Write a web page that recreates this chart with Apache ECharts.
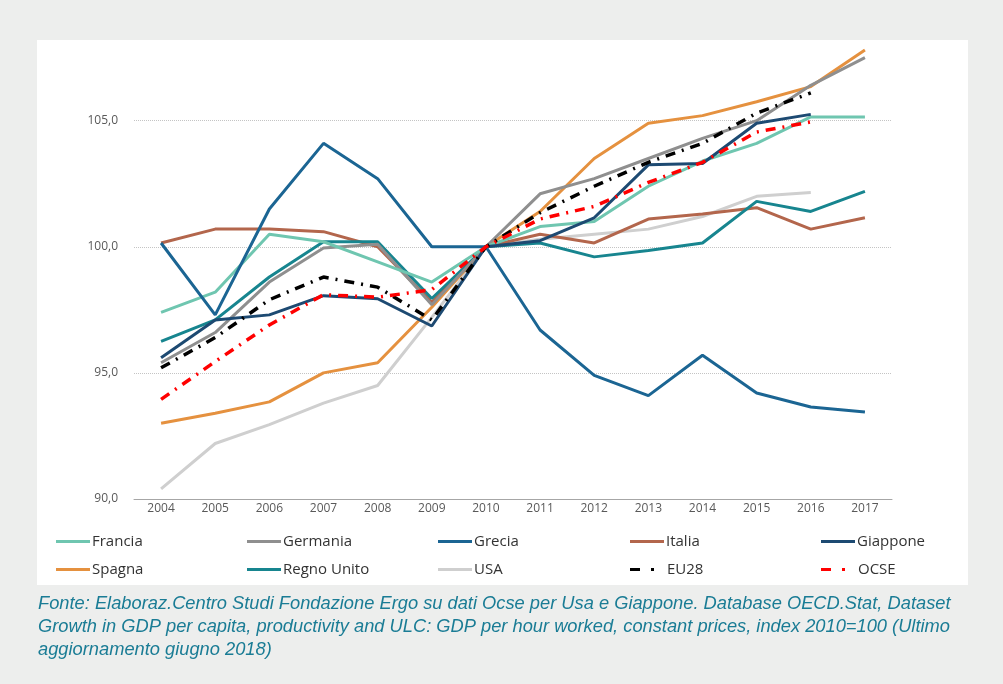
<!DOCTYPE html>
<html>
<head>
<meta charset="utf-8">
<script src="https://cdn.jsdelivr.net/npm/echarts@6/dist/echarts.min.js"></script>
<style>
  html, body { margin: 0; padding: 0; background: #edeeed; }
  #main { width: 1003px; height: 684px; }
</style>
</head>
<body>
<div id="main"></div>
<script>
// anni
var years = ['2004', '2005', '2006', '2007', '2008', '2009', '2010', '2011', '2012', '2013', '2014', '2015', '2016', '2017'];

// indice 2010=100
var francia    = [97.4, 98.2, 100.5, 100.2, 99.4, 98.6, 100, 100.8, 101.0, 102.4, 103.4, 104.1, 105.15, 105.15];
var germania   = [95.4, 96.6, 98.6, 99.95, 100.1, 97.7, 100, 102.1, 102.7, 103.5, 104.3, 105.0, 106.4, 107.5];
var grecia     = [100.15, 97.3, 101.5, 104.1, 102.7, 100.0, 100, 96.7, 94.9, 94.1, 95.7, 94.2, 93.65, 93.45];
var italia     = [100.15, 100.7, 100.7, 100.6, 100.0, 97.8, 100, 100.5, 100.15, 101.1, 101.3, 101.55, 100.7, 101.15];
var giappone   = [95.6, 97.1, 97.3, 98.06, 97.94, 96.86, 100, 100.24, 101.15, 103.25, 103.3, 104.9, 105.25, null];
var spagna     = [93.0, 93.4, 93.85, 95.0, 95.4, 97.6, 100, 101.4, 103.5, 104.9, 105.2, 105.75, 106.35, 107.8];
var regnoUnito = [96.25, 97.1, 98.8, 100.2, 100.2, 97.95, 100, 100.15, 99.6, 99.85, 100.15, 101.8, 101.4, 102.2];
var usa        = [90.4, 92.2, 92.95, 93.8, 94.5, 97.2, 100, 100.3, 100.5, 100.7, 101.2, 102.0, 102.15, null];
var eu28       = [95.2, 96.4, 97.9, 98.8, 98.4, 97.1, 100, 101.35, 102.4, 103.35, 104.1, 105.3, 106.1, null];
var ocse       = [93.95, 95.45, 96.9, 98.1, 98.0, 98.3, 100, 101.1, 101.6, 102.55, 103.35, 104.55, 104.95, null];

var legendRow1 = ['Francia', 'Germania', 'Grecia', 'Italia', 'Giappone'];
var legendRow2 = ['Spagna', 'Regno Unito', 'USA', 'EU28', 'OCSE'];

var fonte = [
  'Fonte: Elaboraz.Centro Studi Fondazione Ergo su dati Ocse per Usa e Giappone. Database OECD.Stat, Dataset',
  'Growth in GDP per capita, productivity and ULC: GDP per hour worked, constant prices, index 2010=100 (Ultimo',
  'aggiornamento giugno 2018)'
];

var tratteggio = [10, 7, 2, 7];

function serie(name, data, color, dash) {
  return {
    name: name,
    type: 'line',
    data: data,
    symbol: 'none',
    connectNulls: false,
    lineStyle: { color: color, width: dash ? 3.5 : 3, type: dash || 'solid' },
    itemStyle: { color: color }
  };
}

var chart = echarts.init(document.getElementById('main'), null, { renderer: 'canvas' });

// icone legenda: linea piena oppure trattino + punto
var iconaLinea = 'path://M0,0h34v3h-34z';
var iconaTratto = 'path://M0,0h10v3h-10z M21,0h3v3h-3z';

var cols = [56, 247, 438, 630, 821];
var legends = [];
legendRow1.forEach(function (n, i) {
  legends.push({ data: [n], left: cols[i], top: 534 });
});
legendRow2.forEach(function (n, i) {
  legends.push({ data: [n], left: cols[i], top: 562 });
});
legends.forEach(function (l) {
  var tratto = l.data[0] === 'EU28' || l.data[0] === 'OCSE';
  l.icon = tratto ? iconaTratto : iconaLinea;
  l.itemWidth = tratto ? 24 : 34;
  l.itemHeight = 3;
  l.padding = 0;
  l.selectedMode = false;
  l.textStyle = { fontSize: 15, color: '#333333', fontFamily: 'Open Sans', padding: [0, 0, 0, tratto ? 8 : -3] };
});

var option = {
  backgroundColor: '#edeeed',
  animation: false,
  graphic: [
    { type: 'rect', z: -10, shape: { x: 37, y: 40, width: 931, height: 545 }, style: { fill: '#ffffff' } },
    {
      type: 'text', left: 38, top: 592,
      style: {
        text: fonte.join('\n'),
        font: 'italic 18.3px "Liberation Sans Narrow", "Liberation Sans", sans-serif',
        fill: '#1a7c95',
        lineHeight: 23
      }
    }
  ],
  legend: legends,
  grid: { left: 134, right: 111, top: 45, bottom: 185 },
  xAxis: {
    type: 'category',
    data: years,
    boundaryGap: true,
    axisLine: { lineStyle: { color: '#a6a6a6', width: 1 } },
    axisTick: { show: false },
    axisLabel: { color: '#595959', fontSize: 12, margin: 4, fontFamily: 'Open Sans' }
  },
  yAxis: {
    type: 'value',
    min: 90,
    max: 108,
    interval: 5,
    axisLine: { show: false },
    axisTick: { show: false },
    axisLabel: {
      color: '#595959', fontSize: 12, margin: 16, fontFamily: 'Open Sans',
      showMaxLabel: false,
      formatter: function (v) { return v.toFixed(1).replace('.', ','); }
    },
    splitLine: { show: true, showMaxLine: false, showMinLine: false, lineStyle: { color: '#c4c4c4', type: 'dotted', width: 1 } }
  },
  series: [
    serie('USA', usa, '#cfcfcf'),
    serie('Italia', italia, '#b3664c'),
    serie('Regno Unito', regnoUnito, '#17858f'),
    serie('Spagna', spagna, '#e5913f'),
    serie('Germania', germania, '#8f8f8f'),
    serie('Francia', francia, '#6fc6b0'),
    serie('Giappone', giappone, '#1d4a72'),
    serie('Grecia', grecia, '#1b6593'),
    serie('EU28', eu28, '#000000', tratteggio),
    serie('OCSE', ocse, '#ff0000', tratteggio)
  ]
};

chart.setOption(option);
</script>
</body>
</html>
